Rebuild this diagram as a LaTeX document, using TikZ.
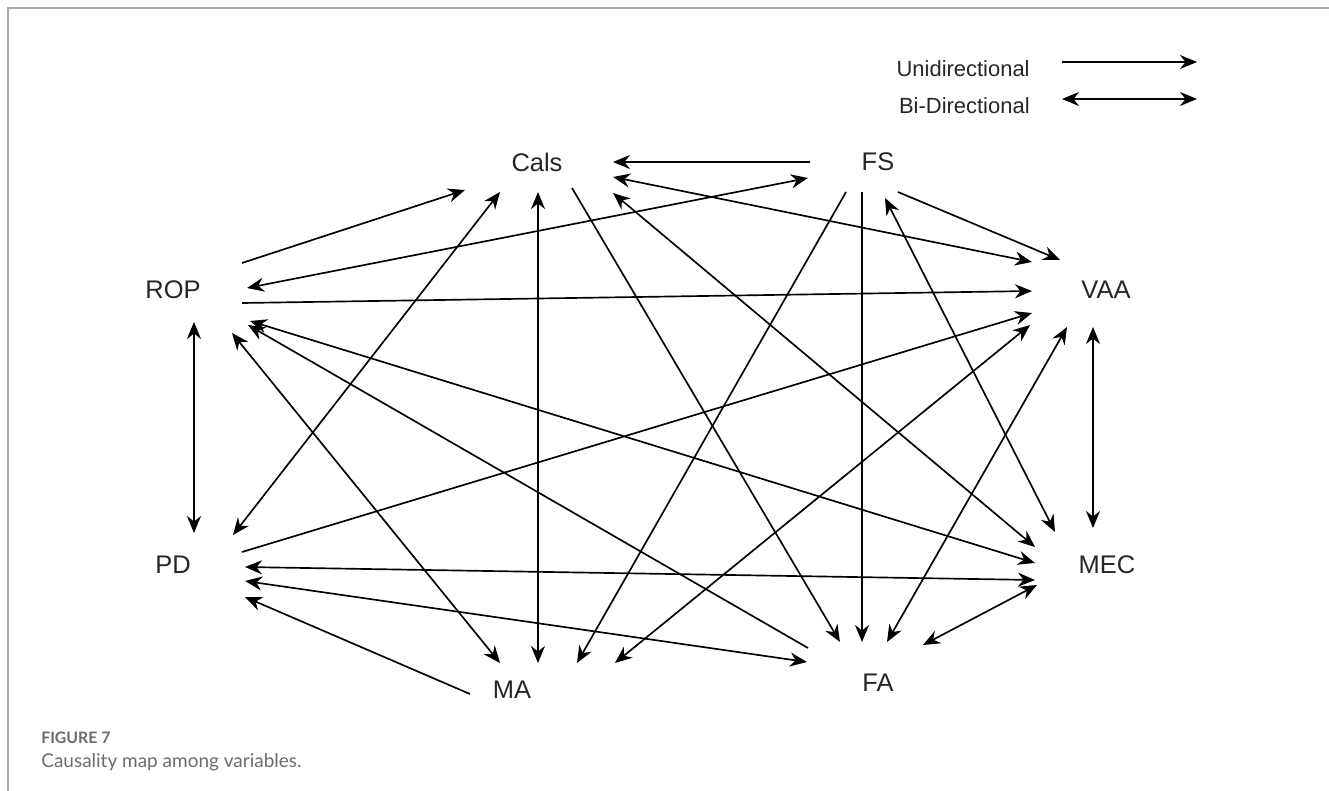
\documentclass[tikz,border=0pt]{standalone}
\usepackage{fontspec}
\setmainfont{Liberation Sans}
\newfontfamily\capfont{Lato}
\usetikzlibrary{arrows.meta,calc}
\definecolor{capgray}{HTML}{6B6B6B}
\definecolor{framegray}{HTML}{A8A8A8}

\begin{document}
\begin{tikzpicture}[
  x=0.02cm, y=-0.02cm,
  var/.style={font=\fontsize{14.5}{17}\selectfont, text=black!85, inner sep=0pt},
  legend/.style={font=\fontsize{12.5}{15}\selectfont, text=black!85, inner sep=0pt},
  uni/.style={-{Stealth[length=3.4mm,width=2.8mm,inset=1.1mm]}, line width=0.95pt},
  bi/.style={{Stealth[length=3.4mm,width=2.8mm,inset=1.1mm]}-{Stealth[length=3.4mm,width=2.8mm,inset=1.1mm]}, line width=0.95pt},
  frame/.style={draw=framegray, line width=1pt}
]
\useasboundingbox (0,0) rectangle (1329,791);
\draw[frame] (8,791) -- (8,8) -- (1329,8);

% variables
\node[var] (cals) at (537,162) {Cals};
\node[var] (fs)   at (878,162) {FS};
\node[var] (rop)  at (173,290) {ROP};
\node[var] (vaa)  at (1106,290) {VAA};
\node[var] (pd)   at (173,565) {PD};
\node[var] (mec)  at (1107,565) {MEC};
\node[var] (ma)   at (512,690) {MA};
\node[var] (fa)   at (878,683) {FA};

% legend
\node[legend, anchor=east] (unitxt) at (1030,69) {Unidirectional};
\node[legend, anchor=east] (bitxt)  at (1030,106) {Bi-Directional};
\draw[uni] ($(unitxt.east)+(32,-7)$) -- +(135,0);
\draw[bi]  ($(bitxt.east)+(32,-7)$) -- +(135,0);

% links from Cals and FS
\draw[uni] ($(fs)+(-68,0)$) -- ($(cals)+(76,0)$);
\draw[bi]  ($(cals)+(76,15)$) -- ($(vaa)+(-74,-28)$);
\draw[bi]  ($(cals)+(76,31)$) -- ($(mec)+(-72,-18)$);
\draw[uni] ($(rop)+(69,-27)$) -- ($(cals)+(-72,28)$);
\draw[bi]  ($(pd)+(60,-30)$) -- ($(cals)+(-37,30)$);
\draw[bi]  ($(cals)+(1,30)$) -- ($(ma)+(26,-27)$);
\draw[uni] ($(cals)+(35,26)$) -- ($(fa)+(-38,-41)$);
\draw[bi]  ($(fs)+(-70,16)$) -- ($(rop)+(74,-2)$);
\draw[uni] ($(fs)+(20,30)$) -- ($(vaa)+(-46,-30)$);
\draw[uni] ($(fs)+(-32,30)$) -- ($(ma)+(65,-27)$);
\draw[uni] ($(fs)+(-16,30)$) -- ($(fa)+(-16,-41)$);
\draw[bi]  ($(fs)+(7,36)$) -- ($(mec)+(-52,-33)$);

% links from ROP and PD
\draw[uni] ($(rop)+(69,13)$) -- ($(vaa)+(-74,1)$);
\draw[bi]  ($(rop)+(21,32)$) -- ($(pd)+(21,-32)$);
\draw[bi]  ($(rop)+(59,43)$) -- ($(ma)+(-12,-27)$);
\draw[bi]  ($(rop)+(77,31)$) -- ($(mec)+(-72,-2)$);
\draw[uni] ($(fa)+(-70,-35)$) -- ($(rop)+(75,35)$);
\draw[uni] ($(pd)+(69,-13)$) -- ($(vaa)+(-74,23)$);
\draw[bi]  ($(pd)+(72,2)$) -- ($(mec)+(-72,15)$);
\draw[bi]  ($(pd)+(72,16)$) -- ($(fa)+(-71,-21)$);

% links from MA, FA, VAA
\draw[uni] ($(ma)+(-42,4)$) -- ($(pd)+(72,32)$);
\draw[bi]  ($(ma)+(103,-27)$) -- ($(vaa)+(-76,35)$);
\draw[bi]  ($(fa)+(9,-41)$) -- ($(vaa)+(-39,37)$);
\draw[bi]  ($(fa)+(45,-38)$) -- ($(mec)+(-70,20)$);
\draw[bi]  ($(vaa)+(-13,37)$) -- ($(mec)+(-14,-37)$);

% caption
\node[anchor=west, inner sep=0pt, text=capgray, font=\capfont\bfseries\fontsize{9}{11}\selectfont] (fignum) at (41,738) {FIGURE 7};
\node[anchor=west, inner sep=0pt, text=capgray, font=\capfont\fontsize{10.8}{13}\selectfont] (figcap) at (41,762) {Causality map among variables.};
\end{tikzpicture}
\end{document}
